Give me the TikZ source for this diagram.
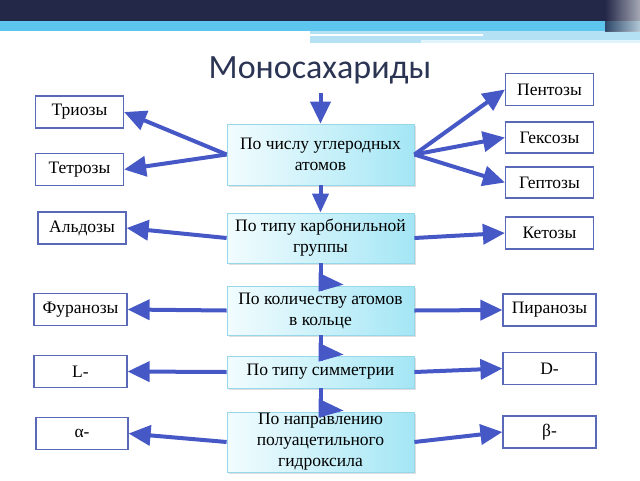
\documentclass[tikz,border=0pt]{standalone}
\usepackage{fontspec}
\setmainfont{Liberation Serif}
\newfontfamily\titlefont{Carlito}
\usetikzlibrary{arrows.meta,shadows,calc}
\definecolor{navyband}{HTML}{232848}
\definecolor{skyband}{HTML}{5CC6EE}
\definecolor{paleband}{HTML}{B4E2F4}
\definecolor{titlecol}{HTML}{2B3553}
\definecolor{linkcol}{HTML}{4658C6}
\definecolor{sideline}{HTML}{5A68B8}
\definecolor{mainline}{HTML}{96D8EA}
\definecolor{mainlight}{HTML}{F2FCFE}
\definecolor{maindark}{HTML}{A4E6F5}
\tikzset{
  mainbox/.style={draw=mainline, line width=0.8pt, left color=mainlight, right color=maindark,
    minimum width=187pt, align=center, inner sep=0pt, font=\fontsize{17.5}{21}\selectfont,
    drop shadow={shadow xshift=2pt,shadow yshift=-2pt,opacity=0.25}},
  sidebox/.style={draw=sideline, line width=1.2pt, fill=white, minimum width=88pt,
    minimum height=32pt, inner sep=0pt, font=\fontsize{17.5}{21}\selectfont},
  link/.style={draw=linkcol, line width=4pt, -{Triangle[length=22pt,width=20pt]}},
  shaft/.style={draw=linkcol, line width=4pt},
}
\newcommand{\halfhead}[1]{\fill[linkcol] ($(#1.north)+(-2,-13)$) -- ($(#1.north)+(23,-1)$) -- ($(#1.north)+(-2,6)$) -- cycle;}

\begin{document}
\begin{tikzpicture}[x=1pt,y=-1pt]
    \useasboundingbox (0,0) rectangle (640,480);
    \fill[navyband] (0,0) rectangle (640,21);
    \fill[skyband] (0,21) rectangle (640,31);
    \fill[paleband] (310,31) rectangle (640,43);
    \fill[white] (310,34) rectangle (483,36);
    \fill[white!60!paleband] (421,40) rectangle (640,43);
    \shade[left color=navyband, right color=white!75!navyband, opacity=0.8] (605,0) rectangle (640,31);

    \node[font=\titlefont\fontsize{34}{40}\selectfont, text=titlecol] (title) at (320,70) {Моносахариды};
    \coordinate (start) at (320.5,93);

    \node[mainbox, minimum height=61pt] (b1) at (320.5,154.5) {По числу углеродных\\атомов};
    \node[mainbox, minimum height=50pt] (b2) at (320.5,238) {По типу карбонильной\\группы};
    \node[mainbox, minimum height=49pt] (b3) at (320.5,310.5) {По количеству атомов\\в кольце};
    \node[mainbox, minimum height=32pt] (b4) at (320.5,372) {По типу симметрии};
    \node[mainbox, minimum height=60pt] (b5) at (320.5,442) {По направлению\\полуацетильного\\гидроксила};

    \node[sidebox] (tri) at (79.5,112) {Триозы};
    \node[sidebox] (tetr) at (79.5,169.5) {Тетрозы};
    \node[sidebox] (ald) at (82,228) {Альдозы};
    \node[sidebox, minimum width=93pt] (fur) at (80.5,309.5) {Фуранозы};
    \node[sidebox, minimum width=93pt] (lform) at (80.5,371.5) {L-};
    \node[sidebox, minimum width=92pt] (alpha) at (82,433.5) {α-};

    \node[sidebox] (pent) at (549.5,89.5) {Пентозы};
    \node[sidebox, minimum height=31pt] (hex) at (549.5,137.5) {Гексозы};
    \node[sidebox, minimum height=31pt] (hept) at (549.5,182.5) {Гептозы};
    \node[sidebox] (ket) at (549.5,233) {Кетозы};
    \node[sidebox, minimum width=93pt] (pir) at (549.5,310) {Пиранозы};
    \node[sidebox, minimum width=93pt] (dform) at (549.5,368.5) {D-};
    \node[sidebox, minimum width=93pt] (beta) at (549.5,432) {β-};

    \draw[link] (start) -- (b1.north);
    \draw[link, -{Triangle[length=19pt,width=16pt]}] (b1.south) -- (b2.north);
    \draw[shaft] (b2.south) -- ($(b3.north)+(0,5)$);
    \draw[shaft] (b3.south) -- ($(b4.north)+(0,5)$);
    \draw[shaft] (b4.south) -- ($(b5.north)+(0,5)$);
    \halfhead{b3}
    \halfhead{b4}
    \halfhead{b5}

    \draw[link] (b1.west) -- (tri.east);
    \draw[link] (b1.west) -- (tetr.east);
    \draw[link] (b1.east) -- (pent.west);
    \draw[link] (b1.east) -- (hex.west);
    \draw[link] (b1.east) -- (hept.west);
    \draw[link] (b2.west) -- (ald.east);
    \draw[link] (b2.east) -- (ket.west);
    \draw[link] (b3.west) -- (fur.east);
    \draw[link] (b3.east) -- (pir.west);
    \draw[link] (b4.west) -- (lform.east);
    \draw[link] (b4.east) -- (dform.west);
    \draw[link] (b5.west) -- (alpha.east);
    \draw[link] (b5.east) -- (beta.west);
\end{tikzpicture}
\end{document}
